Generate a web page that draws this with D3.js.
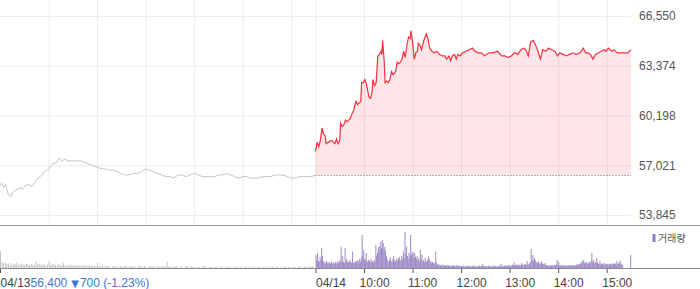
<!DOCTYPE html>
<html>
<head>
<meta charset="utf-8">
<script src="https://cdn.jsdelivr.net/npm/d3@7"></script>
<style>
body { margin: 0; background: #fff; }
svg { display: block; font-family: "Liberation Sans", Arial, sans-serif; }
</style>
</head>
<body>
<div id="chart"></div>
<script>
// price axis ticks (right side)
const yTicks = [53845, 57021, 60198, 63374, 66550];
const prevClose = 56400;
const closeText = ["56,400", "\u25BC", "700 (-1.23%)"];
const dayLabels = ["04/13", "04/14"];
const hourLabels = ["10:00", "11:00", "12:00", "13:00", "14:00", "15:00"];
const hourOffsets = [60, 120, 180, 240, 300, 360]; // minutes after 09:00

// 04/13 price, [minutes after 09:00, price]
const day1 = [
  [0,55700],[2,55900],[5,55600],[7,55800],[10,55200],[13,55000],[16,55300],[19,55400],
  [22,55500],[25,55600],[28,55500],[31,55700],[35,55800],[38,55700],[40,55700],[43,55900],
  [45,56100],[50,56300],[55,56600],[60,56800],[65,57100],[70,57200],[73,57500],[76,57300],
  [80,57400],[85,57300],[90,57300],[95,57300],[100,57300],[105,57200],[110,57100],[115,57000],
  [120,56900],[125,56800],[130,56800],[135,56700],[140,56700],[145,56600],[150,56500],[155,56400],
  [160,56400],[165,56500],[170,56500],[175,56600],[180,56800],[185,56700],[190,56600],[195,56500],
  [200,56400],[205,56300],[210,56300],[215,56200],[220,56400],[225,56400],[230,56300],[235,56400],
  [240,56500],[245,56400],[250,56300],[255,56300],[260,56300],[265,56300],[270,56400],[275,56400],
  [280,56500],[285,56400],[290,56300],[295,56200],[300,56300],[305,56300],[310,56200],[315,56200],
  [320,56200],[325,56300],[330,56300],[335,56300],[340,56400],[345,56400],[350,56400],[355,56300],
  [360,56200],[365,56200],[370,56300],[375,56300],[380,56300],[385,56300],[390,56400]
];

// 04/14 price, [minutes after 09:00, price]
const day2 = [
  [0,57900],[2,58500],[4,58200],[6,58600],[8,59400],[10,59000],[12,58900],[13,58400],
  [16,58500],[20,58600],[22,58500],[24,58400],[26,58700],[28,58400],[30,58600],[31,59700],
  [33,59500],[35,59600],[37,59900],[39,59800],[41,59900],[43,60000],[45,60300],[47,60500],
  [49,60900],[50,61100],[52,60900],[54,61000],[56,61100],[57,62300],[59,62300],[61,62500],
  [63,62200],[66,61400],[68,61300],[70,61700],[71,62500],[73,62100],[75,62300],[77,64000],
  [79,64100],[81,64300],[82,64100],[83,65000],[85,63600],[86,62300],[88,62400],[90,62300],
  [92,62500],[94,63000],[96,62800],[99,63000],[101,63600],[103,63500],[105,63600],[107,63800],
  [109,64300],[111,63900],[113,64700],[115,65200],[117,65100],[118,65600],[120,64900],[122,63800],
  [124,64200],[126,64300],[127,64800],[129,64700],[131,64400],[134,65000],[137,65400],[139,65100],
  [141,64500],[144,64300],[147,64200],[150,64300],[153,64100],[157,64000],[160,64000],[162,63800],
  [165,64000],[167,63700],[169,64000],[172,64100],[174,63800],[176,64100],[179,64000],[182,64200],
  [186,64300],[190,64400],[194,64500],[197,64300],[201,64200],[205,64200],[209,64000],[211,64100],
  [215,64200],[219,64200],[225,64300],[230,64000],[234,64000],[238,63900],[242,64000],[246,64200],
  [250,64100],[254,64400],[257,64500],[260,64400],[263,64000],[266,64900],[269,65000],[272,64700],
  [275,64300],[278,63800],[281,64400],[285,64300],[288,64500],[292,64400],[296,64300],[299,64000],
  [302,64200],[306,64100],[310,64000],[314,64100],[318,64200],[322,64100],[327,64200],[331,64500],
  [334,64200],[337,64200],[340,64100],[343,63800],[346,64100],[350,64200],[353,64300],[357,64400],
  [359,64300],[362,64500],[366,64300],[369,64400],[373,64200],[378,64200],[382,64200],[386,64200],
  [390,64400]
];

// 04/13 volume (thousand shares), one value per 2 minutes
const vol1 = [
  170,60,45,50,40,45,30,50,35,40, 55,30,45,35,40,30,45,35,30,40,
  35,30,65,40,45,35,30,40,25,35, 70,30,40,35,30,25,40,30,30,50,
  25,30,20,35,25,30,20,25,30,20, 25,30,20,25,15,30,20,25,20,15,
  50,20,15,20,10,25,15,20,0,15, 20,10,15,0,20,15,10,25,15,0,
  20,15,10,20,0,15,25,10,15,20, 10,0,15,20,10,15,0,20,15,10,
  15,20,10,60,15,10,0,15,10,20, 0,10,15,0,10,20,10,0,15,10,
  10,0,15,10,0,20,10,15,0,10, 15,10,0,10,15,0,10,20,0,10,
  10,15,0,10,0,15,10,0,10,15, 0,10,15,0,10,0,15,10,0,10,
  15,0,10,10,0,15,0,10,15,0, 10,15,0,10,0,10,15,0,10,10,
  0,15,10,0,10,20,0,10,15,10, 0,15,10,20,0
];

// 04/14 volume (thousand shares), one value per minute
const vol2 = [
  130,90,150,70,60,110,80,200,120,70, 50,60,40,70,55,45,60,50,40,65,
  50,45,55,40,60,50,45,70,55,60, 80,215,70,120,60,50,200,75,90,60,
  55,70,80,60,50,165,60,45,55,70, 60,80,55,70,90,60,100,330,120,180,
  90,80,150,70,60,80,75,55,90,60, 70,55,80,60,230,120,150,210,180,220,
  265,200,280,250,190,210,170,120,90,70, 60,80,110,70,60,90,120,75,60,80,
  100,70,90,110,80,70,120,90,165,100, 360,140,215,120,90,150,110,330,130,165,
  150,100,150,110,90,120,80,100,70,180, 90,130,70,80,60,100,70,60,80,115,
  90,60,70,50,60,45,55,40,165,50, 35,30,40,25,30,20,35,25,30,20,
  25,30,20,25,30,20,15,25,20,30, 20,25,15,20,30,15,20,25,20,15,
  20,15,25,15,20,10,20,15,25,15, 20,15,10,20,15,25,15,20,10,15,
  20,15,25,15,20,15,40,20,15,20, 15,20,10,25,15,20,15,10,20,15,
  25,15,20,15,10,20,15,25,15,40, 20,15,20,25,15,20,30,20,25,15,
  30,25,20,35,25,60,30,25,35,30, 25,35,30,25,50,30,35,25,40,30,
  35,70,40,30,45,60,190,80,130,70, 100,80,60,55,50,70,45,50,40,70,
  45,35,40,50,30,25,30,20,25,30, 20,25,30,20,25,30,25,35,80,30,
  60,25,30,20,25,30,20,25,30,20, 25,20,30,25,20,30,25,20,30,25,
  30,25,35,30,40,35,45,40,55,70, 60,80,50,45,60,55,40,50,60,45,
  70,150,55,80,45,60,50,100,55,45, 40,70,45,35,40,50,30,45,35,40,
  35,45,30,40,35,45,40,35,50,40, 45,35,70,40,45,50,75,40,35,30,
  0,0,0,0,0,0,0,0,0,130
];

const W = 700, H = 289;
const plotW = 631;
const dayLen = 390;

const svg = d3.select("#chart").append("svg")
  .attr("width", W)
  .attr("height", H);

const x = d3.scaleLinear().domain([0, dayLen * 2]).range([0, plotW]);
const y = d3.scaleLinear().domain([yTicks[0], yTicks[yTicks.length - 1]]).range([215, 16]);
const yVol = d3.scaleLinear().domain([0, d3.max(vol2)]).range([268, 232]);

// vertical grid (hours + day boundary)
const gridX = hourOffsets.concat([dayLen], hourOffsets.map(m => dayLen + m));
svg.append("g")
  .attr("transform", "translate(0,225)")
  .call(d3.axisBottom(x).tickValues(gridX).tickSize(-225).tickFormat(""))
  .call(g => g.select(".domain").remove())
  .call(g => g.selectAll("line").attr("stroke", "#ebebeb"));

// horizontal grid + price labels
svg.append("g")
  .attr("transform", `translate(${plotW},0)`)
  .call(d3.axisRight(y).tickValues(yTicks).tickSize(-plotW).tickPadding(8).tickFormat(d3.format(",")))
  .call(g => g.select(".domain").remove())
  .call(g => g.selectAll("line").attr("stroke", "#ebebeb"))
  .call(g => g.selectAll("text").attr("fill", "#555").style("font-size", "12px")
    .style("font-family", "'Liberation Sans', Arial, sans-serif"));

// 04/14 area above previous close
svg.append("path")
  .datum(day2)
  .attr("fill", "rgba(245,125,140,0.2)")
  .attr("d", d3.area()
    .x(d => x(dayLen + d[0]))
    .y0(y(prevClose))
    .y1(d => y(d[1])));

// previous close dotted line
svg.append("line")
  .attr("x1", x(dayLen)).attr("x2", x(dayLen * 2))
  .attr("y1", y(prevClose) + 0.5).attr("y2", y(prevClose) + 0.5)
  .attr("stroke", "#6d5a5a")
  .attr("stroke-dasharray", "1,2");

svg.append("path")
  .datum(day1)
  .attr("fill", "none")
  .attr("stroke", "#c3c4cb")
  .attr("stroke-width", 1)
  .attr("d", d3.line().x(d => x(d[0])).y(d => y(d[1])));

svg.append("path")
  .datum(day2)
  .attr("fill", "none")
  .attr("stroke", "#f2323f")
  .attr("stroke-width", 1.2)
  .attr("d", d3.line().x(d => x(dayLen + d[0])).y(d => y(d[1])));

// panel separator
svg.append("line")
  .attr("x1", 0).attr("x2", W)
  .attr("y1", 225.5).attr("y2", 225.5)
  .attr("stroke", "#9c9c9c");

// volume bars
svg.append("g").selectAll("rect")
  .data(vol1)
  .join("rect")
  .attr("x", (d, i) => x(i * 2))
  .attr("width", 1)
  .attr("y", d => yVol(d))
  .attr("height", d => 268 - yVol(d))
  .attr("fill", "#c2c2c2");

svg.append("g").selectAll("rect")
  .data(vol2)
  .join("rect")
  .attr("x", (d, i) => x(dayLen + i))
  .attr("width", 1)
  .attr("y", d => yVol(d))
  .attr("height", d => 268 - yVol(d))
  .attr("fill", "#9d8bc8");

// volume legend
svg.append("rect")
  .attr("x", 652.5).attr("y", 234)
  .attr("width", 3).attr("height", 8)
  .attr("fill", "#8f7cc2");
svg.append("text")
  .attr("x", 658).attr("y", 241.5)
  .attr("fill", "#555")
  .style("font-size", "10px")
  .style("font-family", "'Noto Sans CJK KR', sans-serif")
  .text("거래량");

// time axis
const axisTicks = [0, dayLen].concat(hourOffsets.map(m => dayLen + m));
const axisText = dayLabels.concat(hourLabels);
const xAxis = svg.append("g")
  .attr("transform", "translate(0,268)")
  .call(d3.axisBottom(x).tickValues(axisTicks).tickSize(5).tickPadding(5)
    .tickFormat((d, i) => axisText[i]));
xAxis.select(".domain").remove();
xAxis.selectAll("line").attr("stroke", "#555");
xAxis.selectAll("text")
  .attr("fill", "#444")
  .attr("text-anchor", "start")
  .attr("dx", (d, i) => i < 2 ? 0 : -5)
  .style("font-size", "12px")
  .style("font-family", "'Liberation Sans', Arial, sans-serif");

// close price next to the first date
xAxis.select(".tick text").call(t => {
  t.append("tspan").attr("fill", "#3b78d4").text(closeText[0]);
  t.append("tspan").attr("fill", "#3b78d4").attr("dx", 4)
    .style("font-size", "10px").style("font-family", "'DejaVu Sans', sans-serif")
    .text(closeText[1]);
  t.append("tspan").attr("fill", "#3b78d4").attr("dx", 1).text(closeText[2]);
});

svg.append("line")
  .attr("x1", 0).attr("x2", W)
  .attr("y1", 268.5).attr("y2", 268.5)
  .attr("stroke", "#8a8a8a");
</script>
</body>
</html>
